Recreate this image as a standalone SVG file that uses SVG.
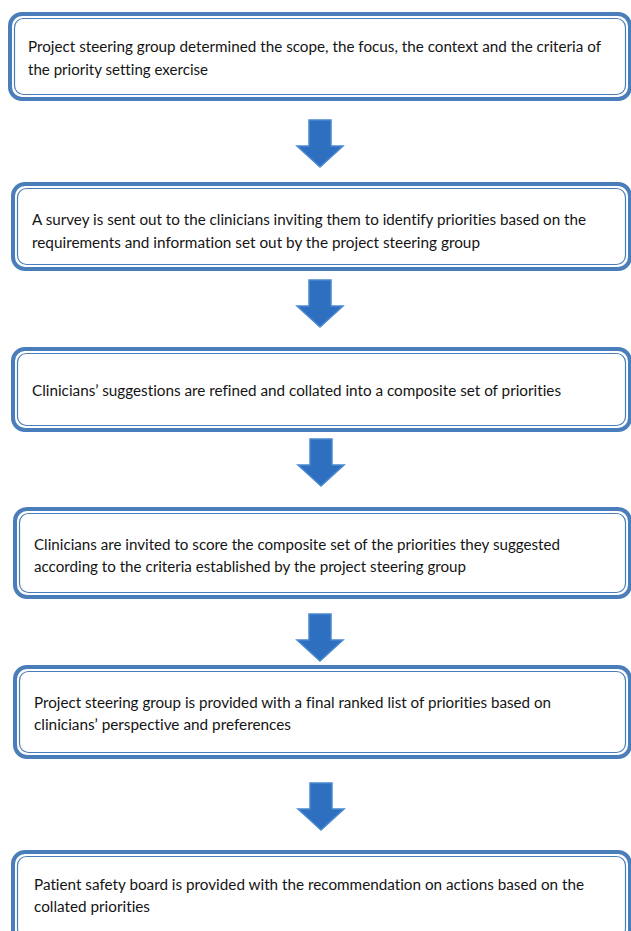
<svg xmlns="http://www.w3.org/2000/svg" width="631" height="931" viewBox="0 0 631 931">
<style>
.outer{fill:#ffffff;stroke:#4a7ebb;stroke-width:4}
.inner{fill:none;stroke:#4a7ebb;stroke-width:1.2}
.t{font-family:Lato,"Liberation Sans",sans-serif;font-size:15.5px;fill:#141414;font-variant-ligatures:none;font-feature-settings:"liga" 0}
.arr{fill:#2e6fc0;stroke:#4a88d0;stroke-width:1.5}
</style>
<defs>
<path id="arrow" d="M -11 0 H 11 V 26 H 23 L 0 47 L -23 26 H -11 Z"/>
</defs>
<rect width="631" height="931" fill="#ffffff"/>
<g id="connectors">
<use href="#arrow" class="arr" transform="translate(320,120)"/>
<use href="#arrow" class="arr" transform="translate(320,280)"/>
<use href="#arrow" class="arr" transform="translate(321,439)"/>
<use href="#arrow" class="arr" transform="translate(320,614)"/>
<use href="#arrow" class="arr" transform="translate(321,783)"/>
</g>
<g id="node1">
<rect class="outer" x="10" y="14" width="620" height="85" rx="12"/>
<rect class="inner" x="14.5" y="18.5" width="611" height="76" rx="9"/>
<text class="t" x="28" y="52" textLength="573" lengthAdjust="spacingAndGlyphs">Project steering group determined the scope, the focus, the context and the criteria of</text>
<text class="t" x="28" y="75" textLength="180" lengthAdjust="spacingAndGlyphs">the priority setting exercise</text>
</g>
<g id="node2">
<rect class="outer" x="13" y="184" width="617" height="85" rx="12"/>
<rect class="inner" x="17.5" y="188.5" width="608" height="76" rx="9"/>
<text class="t" x="32" y="225" textLength="554" lengthAdjust="spacingAndGlyphs">A survey is sent out to the clinicians inviting them to identify priorities based on the</text>
<text class="t" x="32" y="248" textLength="448" lengthAdjust="spacingAndGlyphs">requirements and information set out by the project steering group</text>
</g>
<g id="node3">
<rect class="outer" x="13" y="349" width="617" height="81" rx="12"/>
<rect class="inner" x="17.5" y="353.5" width="608" height="72" rx="9"/>
<text class="t" x="32" y="396" textLength="529" lengthAdjust="spacingAndGlyphs">Clinicians’ suggestions are refined and collated into a composite set of priorities</text>
</g>
<g id="node4">
<rect class="outer" x="15" y="509" width="615" height="88" rx="12"/>
<rect class="inner" x="19.5" y="513.5" width="606" height="79" rx="9"/>
<text class="t" x="34" y="550" textLength="526" lengthAdjust="spacingAndGlyphs">Clinicians are invited to score the composite set of the priorities they suggested</text>
<text class="t" x="34" y="572" textLength="432" lengthAdjust="spacingAndGlyphs">according to the criteria established by the project steering group</text>
</g>
<g id="node5">
<rect class="outer" x="15" y="667" width="615" height="90" rx="12"/>
<rect class="inner" x="19.5" y="671.5" width="606" height="81" rx="9"/>
<text class="t" x="34" y="708" textLength="517" lengthAdjust="spacingAndGlyphs">Project steering group is provided with a final ranked list of priorities based on</text>
<text class="t" x="34" y="730" textLength="257" lengthAdjust="spacingAndGlyphs">clinicians’ perspective and preferences</text>
</g>
<g id="node6">
<rect class="outer" x="13" y="852" width="617" height="90" rx="12"/>
<rect class="inner" x="17.5" y="856.5" width="608" height="81" rx="9"/>
<text class="t" x="34" y="890" textLength="550" lengthAdjust="spacingAndGlyphs">Patient safety board is provided with the recommendation on actions based on the</text>
<text class="t" x="34" y="912" textLength="116" lengthAdjust="spacingAndGlyphs">collated priorities</text>
</g>
</svg>
